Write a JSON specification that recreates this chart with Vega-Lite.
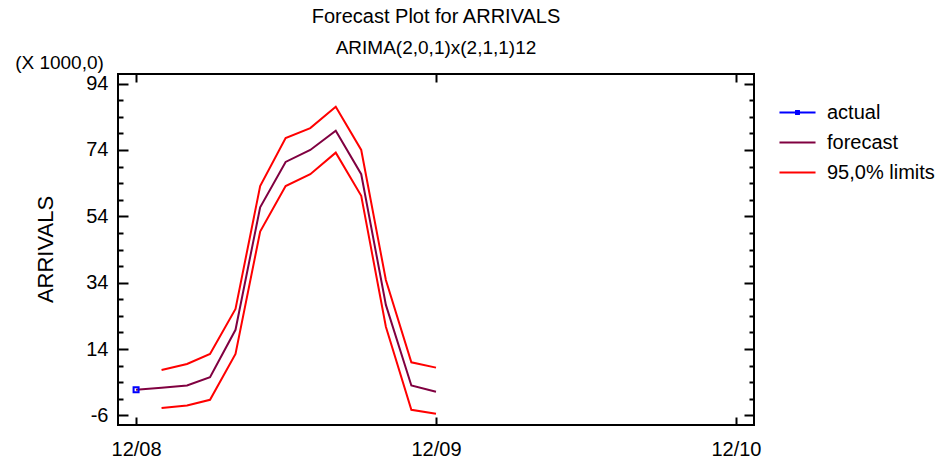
{
  "$schema": "https://vega.github.io/schema/vega-lite/v6.json",
  "width": 636,
  "height": 351,
  "autosize": {"type": "none"},
  "padding": {"left": 118, "top": 74, "right": 184, "bottom": 39},
  "background": "white",
  "config": {
    "font": "Liberation Sans",
    "view": {"stroke": "#000", "strokeWidth": 2},
    "axis": {
      "domain": false,
      "grid": false,
      "tickColor": "#000",
      "tickWidth": 2,
      "labelColor": "#000",
      "labelFont": "Liberation Sans",
      "labelFontSize": 20,
      "titleFont": "Liberation Sans",
      "titleColor": "#000",
      "titleFontWeight": "normal"
    }
  },
  "title": {
    "text": "Forecast Plot for ARRIVALS",
    "subtitle": "ARIMA(2,0,1)x(2,1,1)12",
    "anchor": "middle",
    "frame": "group",
    "font": "Liberation Sans",
    "subtitleFont": "Liberation Sans",
    "fontSize": 20,
    "subtitleFontSize": 19,
    "fontWeight": "normal",
    "color": "#000",
    "subtitleColor": "#000",
    "subtitlePadding": 12,
    "offset": -5
  },
  "data": {
    "values": [
      {"date": "2008-12-01", "series": "actual", "bound": "a", "value": 1.7},
      {"date": "2008-12-01", "series": "forecast", "bound": "f", "value": 1.7},
      {"date": "2009-01-01", "series": "forecast", "bound": "f", "value": 2.3},
      {"date": "2009-02-01", "series": "forecast", "bound": "f", "value": 3.0},
      {"date": "2009-03-01", "series": "forecast", "bound": "f", "value": 5.5},
      {"date": "2009-04-01", "series": "forecast", "bound": "f", "value": 19.8},
      {"date": "2009-05-01", "series": "forecast", "bound": "f", "value": 56.7},
      {"date": "2009-06-01", "series": "forecast", "bound": "f", "value": 70.4},
      {"date": "2009-07-01", "series": "forecast", "bound": "f", "value": 74.0},
      {"date": "2009-08-01", "series": "forecast", "bound": "f", "value": 79.8},
      {"date": "2009-09-01", "series": "forecast", "bound": "f", "value": 66.7},
      {"date": "2009-10-01", "series": "forecast", "bound": "f", "value": 27.3},
      {"date": "2009-11-01", "series": "forecast", "bound": "f", "value": 3.0},
      {"date": "2009-12-01", "series": "forecast", "bound": "f", "value": 1.1},
      {"date": "2009-01-01", "series": "95,0% limits", "bound": "upper", "value": 7.7},
      {"date": "2009-02-01", "series": "95,0% limits", "bound": "upper", "value": 9.5},
      {"date": "2009-03-01", "series": "95,0% limits", "bound": "upper", "value": 12.5},
      {"date": "2009-04-01", "series": "95,0% limits", "bound": "upper", "value": 26.1},
      {"date": "2009-05-01", "series": "95,0% limits", "bound": "upper", "value": 63.1},
      {"date": "2009-06-01", "series": "95,0% limits", "bound": "upper", "value": 77.6},
      {"date": "2009-07-01", "series": "95,0% limits", "bound": "upper", "value": 80.6},
      {"date": "2009-08-01", "series": "95,0% limits", "bound": "upper", "value": 87.0},
      {"date": "2009-09-01", "series": "95,0% limits", "bound": "upper", "value": 74.0},
      {"date": "2009-10-01", "series": "95,0% limits", "bound": "upper", "value": 34.8},
      {"date": "2009-11-01", "series": "95,0% limits", "bound": "upper", "value": 10.0},
      {"date": "2009-12-01", "series": "95,0% limits", "bound": "upper", "value": 8.4},
      {"date": "2009-01-01", "series": "95,0% limits", "bound": "lower", "value": -3.8},
      {"date": "2009-02-01", "series": "95,0% limits", "bound": "lower", "value": -3.0},
      {"date": "2009-03-01", "series": "95,0% limits", "bound": "lower", "value": -1.3},
      {"date": "2009-04-01", "series": "95,0% limits", "bound": "lower", "value": 12.5},
      {"date": "2009-05-01", "series": "95,0% limits", "bound": "lower", "value": 49.4},
      {"date": "2009-06-01", "series": "95,0% limits", "bound": "lower", "value": 63.1},
      {"date": "2009-07-01", "series": "95,0% limits", "bound": "lower", "value": 66.7},
      {"date": "2009-08-01", "series": "95,0% limits", "bound": "lower", "value": 73.2},
      {"date": "2009-09-01", "series": "95,0% limits", "bound": "lower", "value": 60.2},
      {"date": "2009-10-01", "series": "95,0% limits", "bound": "lower", "value": 20.7},
      {"date": "2009-11-01", "series": "95,0% limits", "bound": "lower", "value": -4.3},
      {"date": "2009-12-01", "series": "95,0% limits", "bound": "lower", "value": -5.5}
    ]
  },
  "layer": [
    {
      "transform": [{"filter": "datum.series === '95,0% limits'"}],
      "mark": {"type": "line", "strokeWidth": 2, "clip": true},
      "encoding": {
        "x": {
          "field": "date", "type": "temporal",
          "scale": {"type": "utc", "domain": [{"year": 2008, "month": 11, "date": 9, "utc": true}, {"year": 2010, "month": 12, "date": 23, "utc": true}]},
          "axis": {
            "orient": "bottom", "title": null,
            "labelExpr": "utcFormat(datum.value, '%m/%y')",
            "values": [{"year": 2008, "month": 12, "date": 1, "utc": true}, {"year": 2009, "month": 12, "date": 1, "utc": true}, {"year": 2010, "month": 12, "date": 1, "utc": true}],
            "tickSize": -8, "labelPadding": 22, "labelFlush": false, "labelOverlap": false
          }
        },
        "y": {
          "field": "value", "type": "quantitative",
          "scale": {"domain": [-8.9, 96.9], "nice": false, "zero": false},
          "axis": {
            "orient": "left", "title": "ARRIVALS", "titleFontSize": 22,
            "titleAngle": -90, "titleX": -73, "titleY": 175, "titleAlign": "center", "titleBaseline": "middle",
            "values": [-6, 14, 34, 54, 74, 94],
            "labelExpr": "'' + datum.value",
            "tickSize": -10, "labelPadding": 20, "labelFlush": false, "labelOverlap": false
          }
        },
        "color": {
          "field": "series", "type": "nominal",
          "scale": {"domain": ["actual", "forecast", "95,0% limits"], "range": ["#0000FF", "#800040", "#FF0000"]},
          "legend": {
            "title": null, "orient": "none", "legendX": 660, "legendY": 19,
            "symbolType": "stroke", "symbolSize": 1300, "symbolStrokeWidth": 2,
            "labelFontSize": 20, "labelColor": "#000", "labelFont": "Liberation Sans",
            "labelOffset": 10, "rowPadding": -1,
            "encode": {"symbols": {"update": {"shape": {"signal": "datum.value === 'actual' ? 'M-1,0H1M-0.08,-0.08H0.08V0.08H-0.08Z' : 'stroke'"}}}}
          }
        },
        "detail": {"field": "bound", "type": "nominal"}
      }
    },
    {
      "transform": [{"filter": "datum.series === 'forecast'"}],
      "mark": {"type": "line", "strokeWidth": 2, "clip": true},
      "encoding": {
        "x": {
          "field": "date", "type": "temporal",
          "axis": {
            "orient": "top", "title": null, "labels": false,
            "values": [{"year": 2008, "month": 12, "date": 1, "utc": true}, {"year": 2009, "month": 12, "date": 1, "utc": true}, {"year": 2010, "month": 12, "date": 1, "utc": true}],
            "tickSize": -8
          }
        },
        "y": {
          "field": "value", "type": "quantitative",
          "axis": {"orient": "right", "title": null, "labels": false, "values": [-6, 14, 34, 54, 74, 94], "tickSize": -10}
        },
        "color": {"field": "series", "type": "nominal"}
      }
    },
    {
      "transform": [{"filter": "datum.series === 'actual'"}],
      "mark": {"type": "point", "shape": "square", "size": 25, "filled": false, "strokeWidth": 2, "opacity": 1, "clip": true},
      "encoding": {
        "x": {"field": "date", "type": "temporal", "axis": null},
        "y": {
          "field": "value", "type": "quantitative",
          "axis": {
            "orient": "left", "title": "(X 1000,0)", "titleFontSize": 19,
            "titleAngle": 0, "titleX": -59, "titleY": -12, "titleAlign": "center", "titleBaseline": "middle",
            "labels": false,
            "values": [-1, 4, 9, 19, 24, 29, 39, 44, 49, 59, 64, 69, 79, 84, 89],
            "tickSize": -5
          }
        },
        "color": {"field": "series", "type": "nominal"}
      }
    },
    {
      "transform": [{"filter": "datum.series === 'actual'"}],
      "mark": {"type": "line", "strokeWidth": 2, "clip": true},
      "encoding": {
        "x": {"field": "date", "type": "temporal", "axis": null},
        "y": {
          "field": "value", "type": "quantitative",
          "axis": {
            "orient": "right", "title": null, "labels": false,
            "values": [-1, 4, 9, 19, 24, 29, 39, 44, 49, 59, 64, 69, 79, 84, 89],
            "tickSize": -5
          }
        },
        "color": {"field": "series", "type": "nominal"}
      }
    }
  ],
  "resolve": {"axis": {"x": "independent", "y": "independent"}}
}
